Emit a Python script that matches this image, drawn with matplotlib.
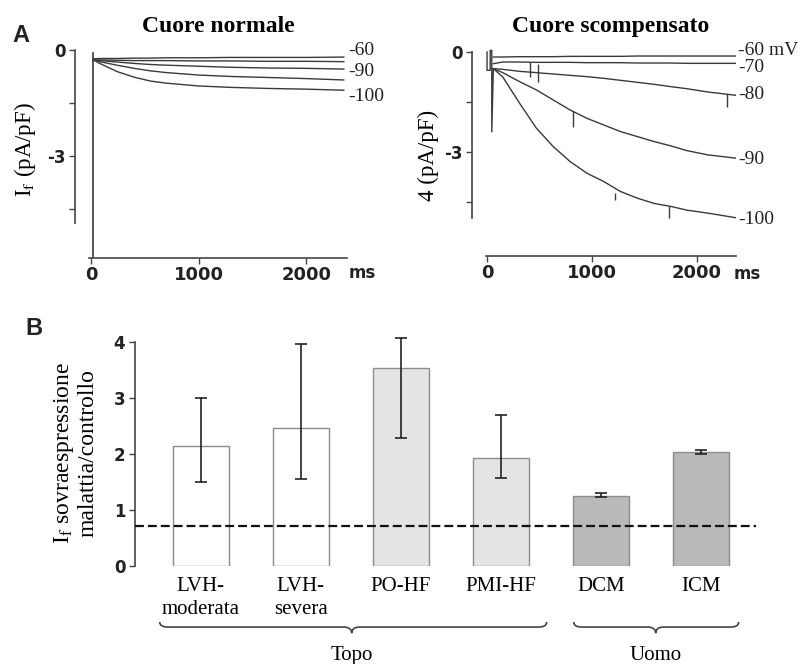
import numpy as np
import matplotlib
matplotlib.use('Agg')
import matplotlib.pyplot as plt
from matplotlib.path import Path
from matplotlib.patches import PathPatch

plt.rcParams['mathtext.fontset'] = 'stix'
plt.rcParams['font.family'] = 'Liberation Serif'

#%% data
# Panel A, left: normal heart (ms, pA/pF)
t_norm = [20, 80, 240, 400, 550, 700, 1000, 1300, 1650, 2000, 2350]
norm_60 = [-0.25, -0.24, -0.24, -0.23, -0.23, -0.22, -0.22, -0.21, -0.21, -0.21, -0.20]
norm_70 = [-0.28, -0.28, -0.29, -0.30, -0.30, -0.30, -0.31, -0.31, -0.32, -0.32, -0.33]
norm_80 = [-0.28, -0.30, -0.34, -0.38, -0.41, -0.43, -0.46, -0.49, -0.51, -0.52, -0.54]
norm_90 = [-0.28, -0.33, -0.43, -0.52, -0.59, -0.64, -0.71, -0.75, -0.78, -0.81, -0.85]
norm_100 = [-0.28, -0.38, -0.61, -0.77, -0.88, -0.94, -1.02, -1.06, -1.09, -1.11, -1.14]
norm_transient_t = [15, 15]
norm_transient_v = [-0.08, -5.9]

# Panel A, right: failing heart
t_fail = [60, 150, 310, 470, 630, 790, 950, 1110, 1270, 1430, 1590, 1750, 1900, 2100, 2370]
fail_60 = [-0.15, -0.15, -0.14, -0.14, -0.14, -0.13, -0.13, -0.13, -0.13, -0.12, -0.12, -0.12, -0.12, -0.12, -0.12]
fail_70 = [-0.35, -0.30, -0.30, -0.31, -0.31, -0.31, -0.32, -0.32, -0.32, -0.33, -0.33, -0.33, -0.34, -0.34, -0.34]
fail_80 = [-0.50, -0.52, -0.58, -0.62, -0.66, -0.70, -0.74, -0.79, -0.85, -0.91, -0.97, -1.04, -1.10, -1.20, -1.30]
fail_90 = [-0.50, -0.62, -0.89, -1.14, -1.44, -1.74, -1.99, -2.19, -2.39, -2.54, -2.69, -2.82, -2.96, -3.09, -3.19]
fail_100 = [-0.50, -0.75, -1.54, -2.29, -2.84, -3.29, -3.64, -3.89, -4.19, -4.39, -4.55, -4.64, -4.75, -4.84, -4.98]
fail_transient_t = [0, 0, 30, 30, 45, 45, 60]
fail_transient_v = [0.0, -0.55, -0.55, 0.05, 0.05, -2.4, -0.5]
# small notches (artefacts) on the failing-heart traces: time, top, bottom
notch_t = [410, 490, 820, 1220, 1735, 2290]
notch_top = [-0.31, -0.36, -1.76, -4.25, -4.64, -1.27]
notch_bot = [-0.74, -0.90, -2.26, -4.45, -4.99, -1.64]

norm_labels = ['-60', '-90', '-100']
norm_label_v = [0.0, -0.62, -1.33]
fail_labels = ['-60 mV', '-70', '-80', '-90', '-100']
fail_label_v = [0.06, -0.48, -1.29, -3.24, -5.04]

# Panel B
categories = ['LVH-\nmoderata', 'LVH-\nsevera', 'PO-HF', 'PMI-HF', 'DCM', 'ICM']
ratio = [2.15, 2.47, 3.54, 1.92, 1.25, 2.03]
err_low = [1.50, 1.55, 2.28, 1.58, 1.23, 2.00]
err_high = [3.00, 3.97, 4.07, 2.70, 1.30, 2.08]
bar_colors = ['white', 'white', '#e4e4e4', '#e4e4e4', '#b9b9b9', '#b9b9b9']
ref_level = 0.72
groups = ['Topo', 'Uomo']
group_span = [(-0.41, 3.46), (3.73, 5.38)]
group_tip = [1.51, 4.55]

TRACE = '#3a3a3a'
AXC = '#444444'

fig = plt.figure(figsize=(8.09, 6.64), dpi=100)


def style_trace_axes(ax, xlim, ylim, ybottom):
    ax.set_xlim(xlim)
    ax.set_ylim(ylim)
    ax.spines['top'].set_visible(False)
    ax.spines['right'].set_visible(False)
    ax.spines['left'].set_position(('outward', 10))
    ax.spines['left'].set_bounds(ybottom, 0)
    for s in ['left', 'bottom']:
        ax.spines[s].set_color(AXC)
        ax.spines[s].set_linewidth(1.2)
    ax.set_yticks([0, -1.5, -3, -4.5])
    ax.set_yticklabels(['0', '', '-3', ''])
    ax.set_xticks([0, 1000, 2000])
    ax.set_xticklabels(['0', '1000', '2000'])
    ax.tick_params(axis='y', length=4, width=1, color=AXC, pad=3, labelsize=12)
    ax.tick_params(axis='x', length=4, width=1, color=AXC, pad=1.5, labelsize=13)
    for lbl in ax.get_xticklabels() + ax.get_yticklabels():
        lbl.set_fontfamily('DejaVu Sans')
        lbl.set_fontweight('bold')
        lbl.set_color('#222222')


#%% Panel A left
ax1 = fig.add_axes([89 / 809, 1 - 258 / 664, 258 / 809, 211.5 / 664])
for v in [norm_60, norm_70, norm_80, norm_90, norm_100]:
    ax1.plot(t_norm, v, color=TRACE, lw=1.0)
ax1.plot(norm_transient_t, norm_transient_v, color=TRACE, lw=1.2)
style_trace_axes(ax1, (-20, 2380), (-5.9, 0.1), -4.9)
for lab, v in zip(norm_labels, norm_label_v):
    ax1.text(2392, v, lab, fontsize=14, va='center', ha='left', color='#222222', clip_on=False)
ax1.annotate('ms', xy=(2392, 0), xycoords=ax1.get_xaxis_transform(), xytext=(0, -11),
             textcoords='offset points', fontsize=12, fontweight='bold', family='DejaVu Sans',
             va='center', ha='left', color='#222222')
ax1.set_title('Cuore normale', fontsize=17, fontweight='bold', pad=10.5)
fig.text(25 / 809, 1 - 150 / 664, r'I$_\mathrm{f}$ (pA/pF)', rotation=90, fontsize=16.5,
         ha='center', va='center')

#%% Panel A right
ax2 = fig.add_axes([486 / 809, 1 - 256 / 664, 250 / 809, 207.3 / 664])
for v in [fail_60, fail_70, fail_80, fail_90, fail_100]:
    ax2.plot(t_fail, v, color=TRACE, lw=1.0)
ax2.plot(fail_transient_t, fail_transient_v, color=TRACE, lw=1.0)
ax2.vlines(notch_t, notch_bot, notch_top, color=TRACE, lw=1.0)
style_trace_axes(ax2, (-10, 2371), (-6.13, 0.1), -5.0)
for lab, v in zip(fail_labels, fail_label_v):
    ax2.text(2390, v, lab, fontsize=14, va='center', ha='left', color='#222222', clip_on=False)
ax2.annotate('ms', xy=(2350, 0), xycoords=ax2.get_xaxis_transform(), xytext=(0, -13),
             textcoords='offset points', fontsize=12, fontweight='bold', family='DejaVu Sans',
             va='center', ha='left', color='#222222')
ax2.set_title('Cuore scompensato', fontsize=17, fontweight='bold', pad=12)
fig.text(428 / 809, 1 - 155 / 664, '4 (pA/pF)', rotation=90, fontsize=16.5,
         ha='center', va='center')

#%% Panel B
ax3 = fig.add_axes([135 / 809, 1 - 566 / 664, 625.7 / 809, 232.4 / 664])
x = np.arange(len(categories))
ratio_arr = np.array(ratio)
yerr = [ratio_arr - np.array(err_low), np.array(err_high) - ratio_arr]
ax3.bar(x, ratio, width=0.56, color=bar_colors, edgecolor='#8c8c8c', linewidth=1.0,
        yerr=yerr, capsize=4, error_kw=dict(ecolor='#222222', elinewidth=1.2, capthick=1.2),
        zorder=2)
ax3.axhline(ref_level, xmin=0, xmax=(5.55 + 0.657) / 6.257, color='#111111', lw=1.6,
            dashes=(4, 1.8), zorder=3)
ax3.set_xlim(-0.657, 5.6)
ax3.set_ylim(0, 4.15)
for s in ['top', 'right', 'bottom']:
    ax3.spines[s].set_visible(False)
ax3.spines['left'].set_bounds(0, 4)
ax3.spines['left'].set_color(AXC)
ax3.spines['left'].set_linewidth(1.2)
ax3.set_yticks([0, 1, 2, 3, 4])
ax3.tick_params(axis='y', length=4, width=1, color=AXC, pad=3, labelsize=12)
for lbl in ax3.get_yticklabels():
    lbl.set_fontfamily('DejaVu Sans')
    lbl.set_fontweight('bold')
    lbl.set_color('#222222')
ax3.set_xticks(x)
ax3.set_xticklabels(categories, fontsize=15, linespacing=1.3)
ax3.tick_params(axis='x', length=0, pad=8)

# group braces
for name, (x0, x1), xm in zip(groups, group_span, group_tip):
    y_end, y_mid, y_tip = -1.00, -1.09, -1.20
    d = 0.08
    verts = [(x0, y_end), (x0, y_mid), (x0 + d, y_mid), (xm - d, y_mid), (xm, y_mid),
             (xm, y_tip), (xm, y_mid), (xm + d, y_mid), (x1 - d, y_mid), (x1, y_mid), (x1, y_end)]
    codes = [Path.MOVETO, Path.CURVE3, Path.CURVE3, Path.LINETO, Path.CURVE3, Path.CURVE3,
             Path.CURVE3, Path.CURVE3, Path.LINETO, Path.CURVE3, Path.CURVE3]
    ax3.add_patch(PathPatch(Path(verts, codes), fill=False, edgecolor='#444444', lw=1.2,
                            clip_on=False))
    ax3.text(xm, -1.59, name, fontsize=15, ha='center', va='center', clip_on=False)

fig.text(75 / 809, 1 - 453 / 664,
         r'I$_\mathrm{f}$ sovraespressione' + '\n' + 'malattia/controllo',
         rotation=90, fontsize=17, ha='center', va='center', linespacing=1.1)

fig.text(12 / 809, 1 - 42 / 664, 'A', fontsize=17, fontweight='bold', family='Liberation Sans',
         color='#222222', va='baseline')
fig.text(25 / 809, 1 - 335 / 664, 'B', fontsize=17, fontweight='bold', family='Liberation Sans',
         color='#222222', va='baseline')

fig.savefig('out.png', dpi=100)
